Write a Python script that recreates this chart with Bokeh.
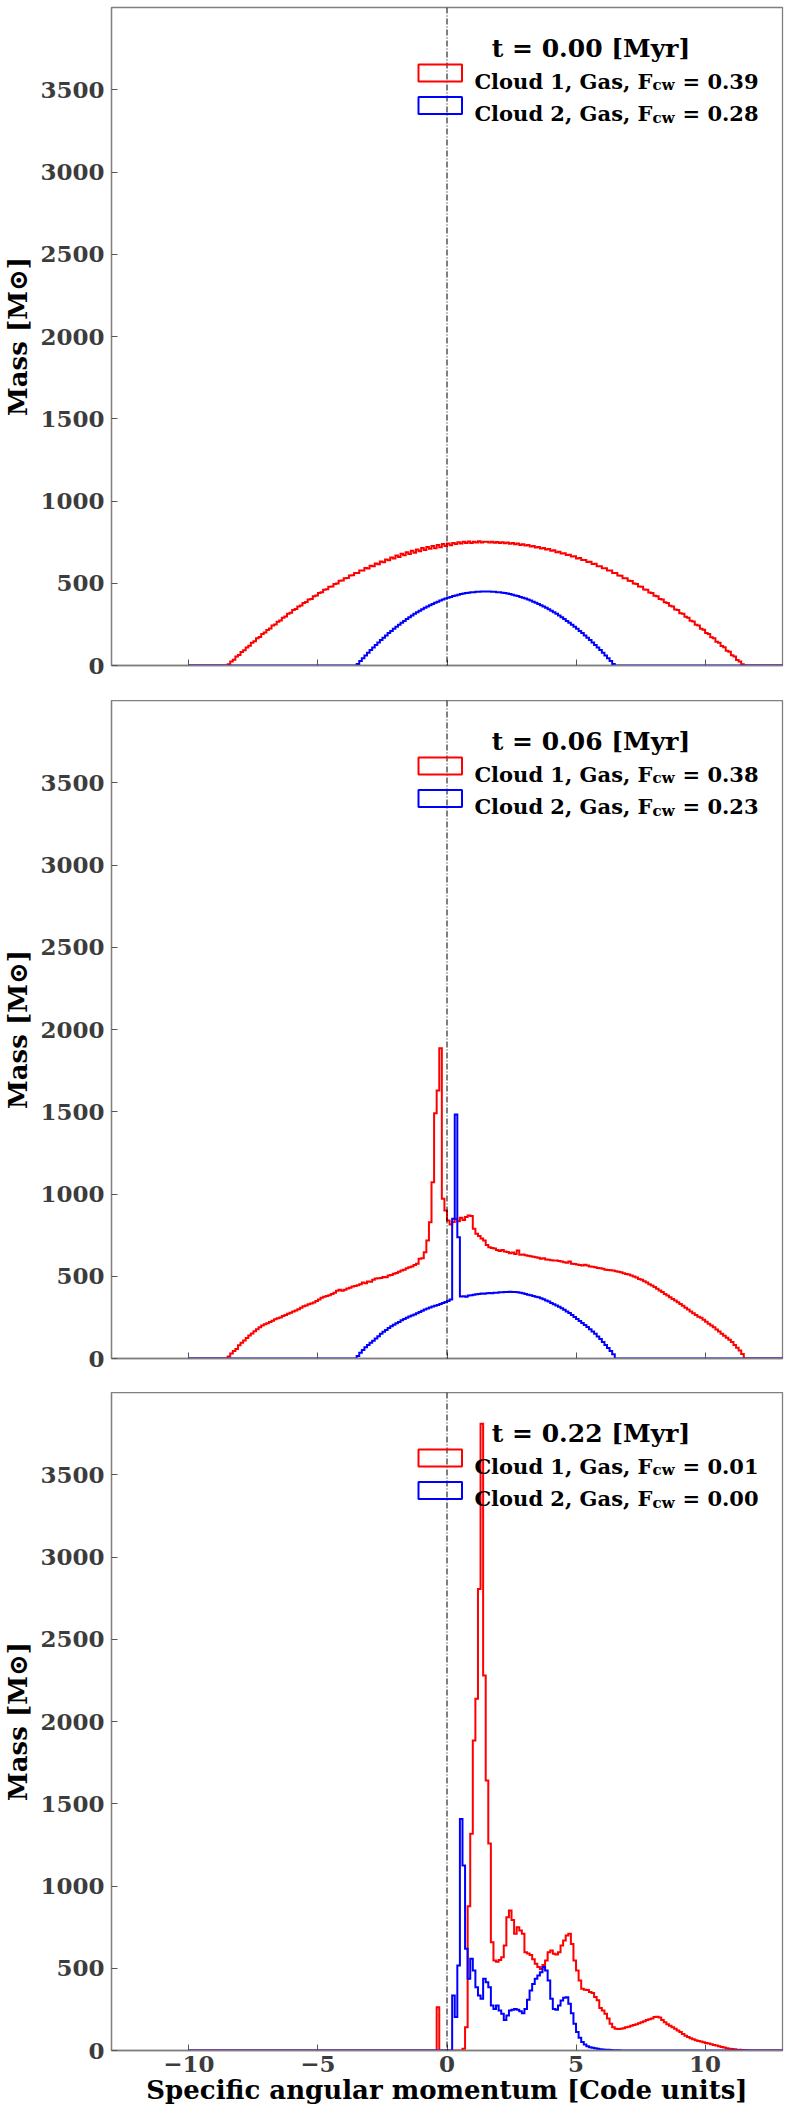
import numpy as np
from bokeh.plotting import figure
from bokeh.layouts import column
from bokeh.models import Span, Label, BoxAnnotation, FixedTicker, Range1d
from bokeh.embed import file_html
from bokeh.resources import INLINE

# ---------------- data ----------------
BIN_WIDTH = 0.1
HIST_MIN = -10.0
HIST_MAX = 15.0

x_ticks = [-10, -5, 0, 5, 10]
x_tick_labels = ["\u221210", "\u22125", "0", "5", "10"]
y_ticks = [0, 500, 1000, 1500, 2000, 2500, 3000, 3500]
y_tick_labels = ["0", "500", "1000", "1500", "2000", "2500", "3000", "3500"]

times = ["0.00", "0.06", "0.22"]
fcw_cloud1 = ["0.39", "0.38", "0.01"]
fcw_cloud2 = ["0.28", "0.23", "0.00"]

# t = 0.00 Myr  (values per 0.1-wide bin, starting at the given left edge)
cloud1_t0_start = -8.5
cloud1_t0 = [
    8, 24, 35, 55, 64, 82, 92, 110, 120, 138,
    147, 165, 174, 191, 200, 216, 225, 243, 250, 266,
    274, 291, 298, 314, 320, 337, 343, 359, 365, 380,
    386, 401, 405, 421, 426, 441, 445, 460, 463, 478,
    481, 496, 499, 515, 516, 531, 532, 547, 548, 563,
    562, 578, 577, 593, 590, 606, 603, 620, 616, 632,
    628, 645, 640, 656, 650, 668, 660, 679, 670, 688,
    678, 697, 686, 705, 694, 714, 702, 720, 710, 727,
    713, 732, 719, 738, 726, 742, 731, 745, 738, 750,
    741, 752, 744, 754, 745, 752, 747, 755, 748, 753,
    752, 747, 753, 746, 751, 744, 749, 743, 747, 740,
    744, 737, 741, 733, 737, 729, 733, 723, 727, 717,
    721, 711, 715, 705, 708, 697, 700, 689, 692, 681,
    683, 672, 674, 662, 664, 651, 653, 641, 642, 629,
    630, 617, 618, 604, 604, 591, 591, 577, 577, 562,
    562, 547, 546, 531, 530, 515, 514, 498, 496, 480,
    478, 462, 460, 444, 441, 424, 421, 404, 401, 384,
    380, 363, 359, 341, 337, 318, 314, 296, 291, 272,
    267, 248, 243, 223, 217, 198, 192, 172, 166, 145,
    139, 118, 111, 90, 83, 62, 55, 33, 25, 8,
]
cloud2_t0_start = -3.5
cloud2_t0 = [
    9, 27, 44, 61, 77, 94, 109, 125, 140, 155,
    169, 183, 197, 210, 223, 236, 248, 260, 271, 283,
    293, 304, 314, 324, 333, 342, 351, 359, 367, 374,
    382, 388, 395, 401, 407, 412, 417, 422, 426, 430,
    434, 437, 440, 442, 445, 446, 448, 449, 450, 450,
    450, 450, 449, 448, 446, 445, 442, 440, 437, 434,
    430, 426, 422, 417, 412, 407, 401, 395, 388, 382,
    374, 367, 359, 351, 342, 333, 324, 314, 304, 293,
    283, 271, 260, 248, 236, 223, 210, 197, 183, 169,
    155, 140, 125, 109, 94, 77, 61, 44, 27, 9,
]

# t = 0.06 Myr
cloud1_t1_start = -8.5
cloud1_t1 = [
    12, 30, 45, 58, 80, 95, 110, 125, 140, 152,
    165, 178, 190, 200, 208, 215, 222, 230, 238, 245,
    250, 258, 265, 272, 278, 285, 292, 300, 308, 318,
    322, 330, 334, 340, 350, 358, 370, 375, 380, 385,
    392, 400, 412, 418, 412, 418, 425, 430, 438, 440,
    446, 452, 462, 458, 468, 466, 478, 486, 488, 490,
    495, 494, 505, 508, 515, 520, 528, 535, 540, 548,
    555, 560, 568, 576, 606, 610, 646, 717, 829, 1072,
    1491, 1629, 1886, 971, 900,
    839, 815, 830, 849, 835, 855, 842, 860, 869, 866,
    788, 758, 745, 730, 717, 690, 677, 672, 668, 660,
    654, 660, 650, 648, 640, 645, 636, 657, 630, 632,
    628, 625, 622, 618, 616, 612, 606, 610, 602, 600,
    598, 595, 595, 592, 590, 585, 582, 590, 576, 575,
    572, 568, 566, 570, 565, 560, 558, 555, 550, 548,
    545, 540, 538, 536, 535, 530, 527, 524, 518, 514,
    510, 505, 498, 492, 484, 478, 470, 462, 452, 444,
    434, 424, 414, 404, 392, 383, 372, 362, 352, 342,
    332, 320, 308, 298, 286, 275, 264, 254, 247, 236,
    224, 212, 200, 190, 176, 164, 150, 138, 126, 114,
    100, 82, 66, 48, 28,
]
cloud2_t1_start = -3.5
cloud2_t1 = [
    15, 35, 52, 68, 82, 95, 108, 122, 135, 150,
    162, 174, 185, 196, 205, 214, 222, 232, 240, 248,
    255, 262, 268, 275, 282, 290, 298, 304, 310, 316,
    320, 325, 332, 338, 344, 350, 358, 849, 1483, 737,
    377, 378, 376, 383, 385, 388, 390, 392, 395, 393,
    397, 398, 397, 400, 399, 402, 403, 404, 405, 406,
    405, 404, 403, 400, 396, 392, 388, 384, 380, 376,
    372, 366, 360, 352, 346, 338, 330, 322, 314, 306,
    296, 286, 276, 264, 252, 240, 228, 216, 204, 192,
    178, 164, 150, 134, 118, 100, 82, 64, 46, 26,
]

# t = 0.22 Myr
cloud1_t2_start = -0.4
cloud1_t2 = [
    263, 0, 0, 0, 0, 0, 0, 0, 0, 0,
    10, 142, 877, 1317, 1884, 2138, 2806, 3810, 2280, 1641,
    1258, 658, 547, 540, 550, 567, 638, 810, 851, 794,
    709, 750, 730, 710, 598, 590, 580, 555, 527, 507,
    496, 520, 547, 598, 608, 588, 583, 598, 638, 669,
    699, 709, 648, 547, 486, 426, 375, 370, 368, 355,
    350, 325, 305, 258, 243, 223, 195, 162, 142, 132,
    130, 132, 135, 142, 145, 150, 155, 160, 165, 172,
    178, 185, 190, 195, 203, 205, 200, 185, 172, 160,
    150, 142, 132, 122, 112, 100, 90, 82, 75, 68,
    62, 58, 54, 50, 46, 42, 38, 34, 30, 26,
    22, 18, 14, 11, 9, 7, 5, 4, 3, 2,
    1,
]
cloud2_t2_start = 0.2
cloud2_t2 = [
    334, 203, 517, 1408, 1125, 618, 436, 557, 486, 385,
    334, 314, 436, 415, 385, 274, 253, 274, 243, 223,
    186, 213, 243, 247, 253, 247, 239, 227, 253, 308,
    365, 405, 436, 456, 476, 507, 486, 426, 314, 253,
    247, 274, 304, 320, 324, 284, 227, 162, 112, 77,
    51, 37, 26, 20, 16, 13, 10, 8, 6, 5,
    4, 3, 2, 1, 1,
]

panels = [
    (cloud1_t0_start, cloud1_t0, cloud2_t0_start, cloud2_t0),
    (cloud1_t1_start, cloud1_t1, cloud2_t1_start, cloud2_t1),
    (cloud1_t2_start, cloud1_t2, cloud2_t2_start, cloud2_t2),
]

# ---------------- layout / style ----------------
X_RANGE = (-13.0, 13.0)
Y_RANGE = (0.0, 4000.0)
FRAME_W = 671
FRAME_H = 658
BORDER_LEFT = 109
BORDER_RIGHT = 9
TOP_FIRST = 7
GAPS = [35, 34]
BOTTOM_LAST = 64
FONT = "DejaVu Serif"
TICK_COLOR = "#3c3c3c"
SPINE_COLOR = "#808080"

edges = np.round(np.arange(HIST_MIN, HIST_MAX + BIN_WIDTH / 2, BIN_WIDTH), 6)


def full_counts(start, vals):
    counts = np.zeros(len(edges) - 1)
    i0 = int(round((start - HIST_MIN) / BIN_WIDTH))
    counts[i0:i0 + len(vals)] = vals
    return counts


def fx(px):
    return X_RANGE[0] + px * (X_RANGE[1] - X_RANGE[0]) / FRAME_W


def fy(px):
    return Y_RANGE[1] - px * (Y_RANGE[1] - Y_RANGE[0]) / FRAME_H


def bold_label(p, x, y, text, size, align="left", color="black"):
    p.add_layout(Label(x=x, y=y, text=text, text_font=FONT, text_font_style="bold",
                       text_font_size=size, text_align=align, text_baseline="alphabetic",
                       text_color=color))


figs = []
for i, (r_start, r_vals, b_start, b_vals) in enumerate(panels):
    last = i == len(panels) - 1
    p = figure(frame_width=FRAME_W, frame_height=FRAME_H,
               x_range=Range1d(*X_RANGE), y_range=Range1d(*Y_RANGE),
               output_backend="svg", toolbar_location=None,
               min_border_left=BORDER_LEFT, min_border_right=BORDER_RIGHT,
               min_border_top=TOP_FIRST if i == 0 else 0,
               min_border_bottom=BOTTOM_LAST if last else GAPS[i],
               background_fill_color="white", border_fill_color="white")
    p.xgrid.visible = False
    p.ygrid.visible = False
    p.outline_line_color = SPINE_COLOR
    p.outline_line_width = 1.3

    for ax in (p.xaxis[0], p.yaxis[0]):
        ax.axis_line_color = SPINE_COLOR
        ax.axis_line_width = 1.3
        ax.major_tick_in = 6
        ax.major_tick_out = 0
        ax.major_tick_line_color = "#555555"
        ax.minor_tick_line_color = None
        ax.major_label_text_font = FONT
        ax.major_label_text_font_style = "bold"
        ax.major_label_text_font_size = "23px"
        ax.major_label_text_color = TICK_COLOR
        ax.axis_label_text_font = FONT
        ax.axis_label_text_font_style = "bold"
        ax.axis_label_text_font_size = "26px"
        ax.axis_label_text_color = "black"

    p.xaxis.ticker = FixedTicker(ticks=x_ticks)
    p.yaxis.ticker = FixedTicker(ticks=y_ticks)
    p.yaxis.major_label_overrides = {t: l for t, l in zip(y_ticks, y_tick_labels)}
    p.yaxis.major_label_standoff = 7
    p.yaxis.axis_label = "Mass [M\u2299]"
    p.yaxis.axis_label_standoff = 4
    if last:
        p.xaxis.major_label_overrides = {t: l for t, l in zip(x_ticks, x_tick_labels)}
        p.xaxis.major_label_standoff = 5
        p.xaxis.axis_label = "Specific angular momentum [Code units]"
        p.xaxis.axis_label_standoff = 0
    else:
        p.xaxis.major_label_overrides = {t: "" for t in x_ticks}

    red = full_counts(r_start, r_vals)
    blue = full_counts(b_start, b_vals)
    p.step(edges, np.append(red, red[-1]), mode="after", line_color="#ff0000",
           line_width=2, line_join="miter")
    p.step(edges, np.append(blue, blue[-1]), mode="after", line_color="#0000ff",
           line_width=2, line_join="miter")

    p.add_layout(Span(location=0, dimension="height", line_color="black",
                      line_width=1, line_dash="6 2 1 2"))

    # legend (drawn by hand to allow the F_cw subscript)
    bold_label(p, fx(479.5), fy(41.3), "t = %s [Myr]" % times[i], "25px", align="center")
    entries = [("#ff0000", "Cloud 1, Gas, F", fcw_cloud1[i]),
               ("#0000ff", "Cloud 2, Gas, F", fcw_cloud2[i])]
    for k, (col, txt, val) in enumerate(entries):
        off = k * 32.6
        p.add_layout(BoxAnnotation(left=fx(307), right=fx(350.5), top=fy(57 + off),
                                   bottom=fy(74 + off), fill_color=None, fill_alpha=0,
                                   line_color=col, line_alpha=1.0, line_width=2))
        base = 73.7 + off
        bold_label(p, fx(541), fy(base), txt, "21px", align="right")
        bold_label(p, fx(541), fy(base + 4), "cw", "15px", align="left")
        bold_label(p, fx(571), fy(base), "= " + val, "21px", align="left")

    figs.append(p)

layout = column(*figs, spacing=0)
open("out.html", "w").write(file_html(layout, INLINE))
